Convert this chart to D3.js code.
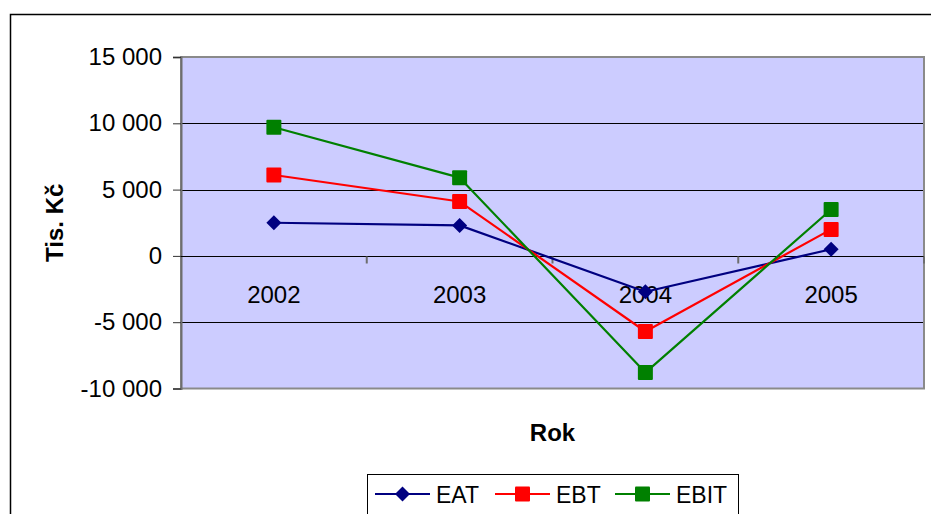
<!DOCTYPE html>
<html>
<head>
<meta charset="utf-8">
<script src="https://cdn.jsdelivr.net/npm/d3@7/dist/d3.min.js"></script>
<style>
  html, body { margin: 0; padding: 0; background: #fff; }
  svg { display: block; font-family: "Liberation Sans", Arial, sans-serif; }
</style>
</head>
<body>
<svg id="chart" width="931" height="514"></svg>
<script>
// Years on the category axis
const years = ["2002", "2003", "2004", "2005"];
// Profit measures in thousands of CZK
const eat  = [2500, 2300, -2700, 500];
const ebt  = [6100, 4100, -5700, 2000];
const ebit = [9700, 5900, -8800, 3500];
const seriesNames = ["EAT", "EBT", "EBIT"];
const yTicks = [-10000, -5000, 0, 5000, 10000, 15000];

const series = [
  { name: seriesNames[0], values: eat,  color: "#000080", shape: "diamond" },
  { name: seriesNames[1], values: ebt,  color: "#FF0000", shape: "square" },
  { name: seriesNames[2], values: ebit, color: "#008000", shape: "square" }
];

const svg = d3.select("#chart");
const plot = { left: 181, right: 924, top: 57, bottom: 388.5 };

// Outer frame of the chart area
svg.append("rect")
  .attr("x", 10.5).attr("y", 14.5)
  .attr("width", 1000).attr("height", 600)
  .attr("fill", "#fff").attr("stroke", "#000").attr("stroke-width", 1.5);

const x = d3.scaleBand().domain(years).range([plot.left, plot.right]);
const y = d3.scaleLinear().domain([-10000, 15000]).range([plot.bottom, plot.top]);
const cx = d => x(d) + x.bandwidth() / 2;

// Plot background
svg.append("rect")
  .attr("x", plot.left).attr("y", plot.top)
  .attr("width", plot.right - plot.left).attr("height", plot.bottom - plot.top)
  .attr("fill", "#CCCCFF");

// Horizontal gridlines
svg.append("g").selectAll("line")
  .data(yTicks.filter(v => v > -10000 && v < 15000))
  .join("line")
  .attr("x1", plot.left).attr("x2", plot.right)
  .attr("y1", d => Math.round(y(d)) + 0.5).attr("y2", d => Math.round(y(d)) + 0.5)
  .attr("stroke", "#000").attr("stroke-width", 1);

// Plot border
svg.append("rect")
  .attr("x", plot.left).attr("y", plot.top)
  .attr("width", plot.right - plot.left).attr("height", plot.bottom - plot.top)
  .attr("fill", "none").attr("stroke", "#8a8a8a").attr("stroke-width", 2);

// Value axis
const yAxis = d3.axisLeft(y).tickValues(yTicks).tickSize(8).tickPadding(11)
  .tickFormat(d => d3.format(",")(d).replace(/,/g, " ").replace("−", "-"));
const gy = svg.append("g").attr("transform", `translate(${plot.left},0)`).call(yAxis);
gy.select(".domain").attr("stroke", "#6e6e6e").attr("stroke-width", 2);
gy.selectAll(".tick line").attr("stroke", "#333").attr("stroke-width", 1);
gy.selectAll(".tick text").attr("font-size", 24).attr("fill", "#000")
  .attr("font-family", "'Liberation Sans', Arial, sans-serif");

// Category axis crossing at zero
const y0 = Math.round(y(0)) + 0.5;
svg.append("line")
  .attr("x1", plot.left).attr("x2", plot.right)
  .attr("y1", y0).attr("y2", y0)
  .attr("stroke", "#000").attr("stroke-width", 1);
const boundaries = years.slice(1).map(d => x(d)).concat([plot.right]);
svg.append("g").selectAll("line")
  .data(boundaries)
  .join("line")
  .attr("x1", d => d).attr("x2", d => d)
  .attr("y1", y0).attr("y2", y0 + 7)
  .attr("stroke", "#6e6e6e").attr("stroke-width", 2);
svg.append("g").selectAll("text")
  .data(years)
  .join("text")
  .attr("x", d => cx(d)).attr("y", y0 + 46)
  .attr("text-anchor", "middle")
  .attr("font-size", 24).attr("fill", "#000")
  .text(d => d);

// Lines
const line = d3.line().x((v, i) => cx(years[i])).y(v => y(v));
svg.append("g").selectAll("path")
  .data(series)
  .join("path")
  .attr("d", s => line(s.values))
  .attr("fill", "none").attr("stroke", s => s.color).attr("stroke-width", 2.2)
  .attr("stroke-linejoin", "round");

function drawMarker(g, shape, color, px, py) {
  if (shape === "diamond") {
    g.append("path")
      .attr("d", `M${px},${py - 7.5}L${px + 7.5},${py}L${px},${py + 7.5}L${px - 7.5},${py}Z`)
      .attr("fill", color);
  } else {
    g.append("rect")
      .attr("x", px - 7.5).attr("y", py - 7.5)
      .attr("width", 15).attr("height", 15).attr("rx", 1)
      .attr("fill", color);
  }
}

// Markers
const mg = svg.append("g");
series.forEach(s => {
  s.values.forEach((v, i) => drawMarker(mg, s.shape, s.color, cx(years[i]), y(v)));
});

// Axis titles
svg.append("text")
  .attr("transform", `translate(63,${(plot.top + plot.bottom) / 2}) rotate(-90)`)
  .attr("text-anchor", "middle")
  .attr("font-size", 24).attr("font-weight", "bold").attr("fill", "#000")
  .text("Tis. Kč");
svg.append("text")
  .attr("x", (plot.left + plot.right) / 2).attr("y", 441)
  .attr("text-anchor", "middle")
  .attr("font-size", 24).attr("font-weight", "bold").attr("fill", "#000")
  .text("Rok");

// Legend
const legend = svg.append("g");
legend.append("rect")
  .attr("x", 367.5).attr("y", 474.5).attr("width", 371).attr("height", 40)
  .attr("fill", "#fff").attr("stroke", "#000").attr("stroke-width", 1);
const itemX = [375, 495, 615];
series.forEach((s, i) => {
  const lx = itemX[i], ly = 494;
  legend.append("line")
    .attr("x1", lx).attr("x2", lx + 55).attr("y1", ly).attr("y2", ly)
    .attr("stroke", s.color).attr("stroke-width", 2);
  drawMarker(legend, s.shape, s.color, lx + 27.5, ly);
  legend.append("text")
    .attr("x", lx + 61).attr("y", ly + 8.5)
    .attr("font-size", 23).attr("fill", "#000")
    .text(s.name);
});
</script>
</body>
</html>
